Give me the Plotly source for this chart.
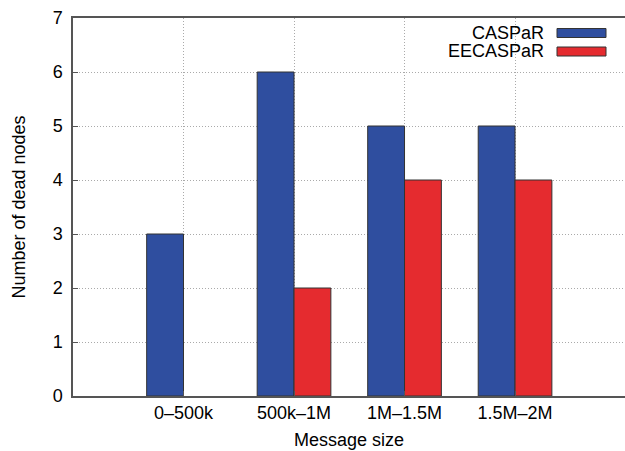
import plotly.graph_objects as go

categories = ["0–500k", "500k–1M", "1M–1.5M", "1.5M–2M"]
caspar = [3, 6, 5, 5]
eecaspar = [0, 2, 4, 4]
series_names = ["CASPaR", "EECASPaR"]
colors = ["#2f4e9f", "#e52b2f"]

W, H = 625, 451
L, R, T, B = 73, 0, 18, 55
pw, ph = W - L - R, H - T - B

def px2paper(x, y):
    return (x - L) / pw, 1 - (y - T) / ph

xpos = list(range(len(categories)))

fig = go.Figure()
for name, vals, col in zip(series_names, [caspar, eecaspar], colors):
    fig.add_trace(go.Bar(
        x=xpos, y=vals, name=name,
        marker=dict(color=col,
                    line=dict(color="#333333", width=[1 if v else 0 for v in vals])),
        showlegend=False,
    ))

font = "Liberation Sans, Arial, Helvetica, sans-serif"

# custom legend: text on the left, swatch on the right
for i, (name, col) in enumerate(zip(series_names, colors)):
    yc = 33 + i * 18.5
    tx, ty = px2paper(546, yc)
    fig.add_annotation(x=tx, y=ty, xref="paper", yref="paper", text=name,
                       showarrow=False, xanchor="right", yanchor="middle",
                       font=dict(family=font, size=18, color="#000"))
    x0, y0 = px2paper(557, yc - 4.5)
    x1, y1 = px2paper(606, yc + 4.5)
    fig.add_shape(type="rect", xref="paper", yref="paper", x0=x0, x1=x1, y0=y0, y1=y1,
                  fillcolor=col, line=dict(color="#333333", width=1))

fig.update_layout(
    width=W, height=H,
    margin=dict(l=L, r=R, t=T, b=B),
    plot_bgcolor="white", paper_bgcolor="white",
    barmode="group", bargap=1/3, bargroupgap=0,
    font=dict(family=font, size=18, color="#000"),
)
fig.update_xaxes(
    range=[-1, 3.995], tickvals=xpos, ticktext=categories,
    showgrid=True, gridcolor="#aaaaaa", griddash="1px,2px", gridwidth=1,
    showline=True, linecolor="#555555", linewidth=1.5, mirror=True,
    ticks="inside", ticklen=5, tickcolor="#555555",
    title=dict(text="Message size", standoff=11, font=dict(size=18)),
    tickfont=dict(size=18), zeroline=False,
)
fig.update_yaxes(
    range=[0, 7], dtick=1,
    showgrid=True, gridcolor="#aaaaaa", griddash="1px,2px", gridwidth=1,
    showline=True, linecolor="#555555", linewidth=1.5,
    ticks="inside", ticklen=5, tickcolor="#555555",
    ticklabelstandoff=5,
    title=dict(text="Number of dead nodes", standoff=22, font=dict(size=18)),
    tickfont=dict(size=18), zeroline=False,
)

fig.write_html("out.html", config={"displayModeBar": False},
               post_script="document.body.style.margin='0';")
